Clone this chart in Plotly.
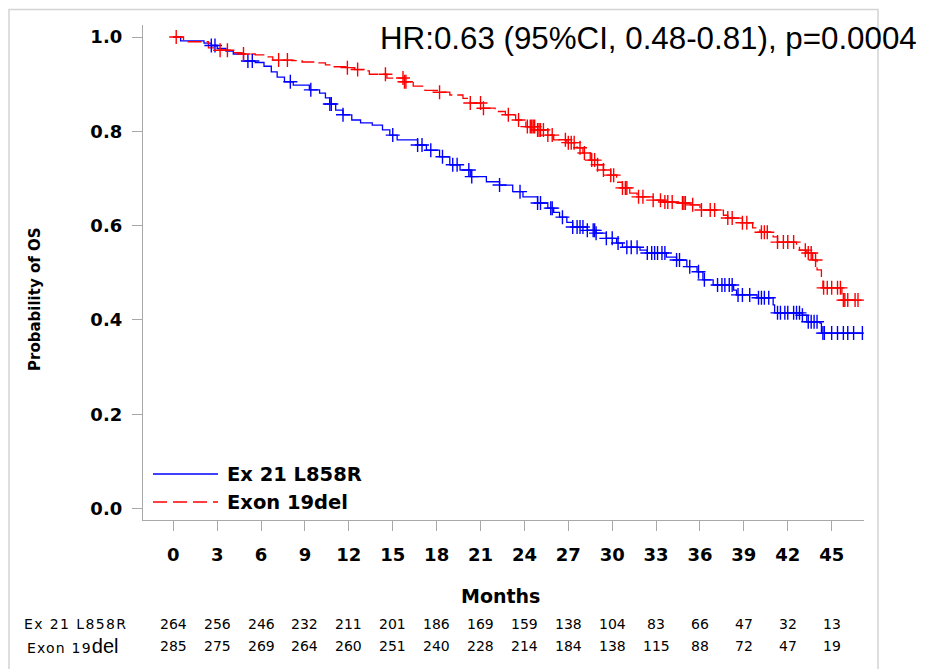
import numpy as np
import plotly.graph_objects as go

# ---------------- data ----------------
groups = ["Ex 21 L858R", "Exon 19del"]

blue_t = [0, 0.5, 2.1, 2.6, 3.0, 3.6, 4.1, 4.8, 5.6, 6.2, 6.7, 7.1, 7.6, 8.2, 9.3, 10.0, 10.4, 10.7,
          11.1, 11.6, 12.2, 12.8, 13.6, 14.3, 14.8, 15.3, 16.7, 17.3, 18.2, 18.9, 19.6, 20.3, 21.4,
          22.3, 23.2, 23.9, 24.9, 25.6, 26.0, 26.4, 26.9, 27.3, 28.3, 28.9, 29.6, 30.3, 30.7, 31.9,
          32.4, 33.7, 34.4, 35.1, 35.8, 36.2, 36.9, 38.3, 38.5, 39.9, 41.0, 41.1, 43.0, 43.3, 44.2,
          44.3, 47.1]
blue_s = [1.0, 0.992, 0.987, 0.982, 0.976, 0.970, 0.964, 0.949, 0.946, 0.938, 0.926, 0.915, 0.905,
          0.898, 0.888, 0.881, 0.871, 0.858, 0.845, 0.835, 0.824, 0.818, 0.813, 0.803, 0.792, 0.782,
          0.771, 0.760, 0.746, 0.729, 0.718, 0.704, 0.693, 0.686, 0.672, 0.661, 0.648, 0.637, 0.628,
          0.618, 0.607, 0.597, 0.590, 0.584, 0.573, 0.563, 0.554, 0.548, 0.542, 0.533, 0.527, 0.513,
          0.502, 0.485, 0.474, 0.463, 0.453, 0.447, 0.432, 0.415, 0.410, 0.396, 0.393, 0.372, 0.372]

red_t = [0, 0.7, 2.4, 2.9, 4.0, 4.7, 5.6, 6.3, 6.8, 8.1, 8.8, 9.9, 10.4, 10.9, 11.8, 12.4, 13.1,
         13.4, 14.6, 15.8, 16.4, 17.2, 18.1, 18.9, 19.8, 20.3, 21.1, 22.0, 22.7, 23.4, 24.1, 24.9,
         25.6, 26.0, 26.9, 27.6, 28.0, 28.5, 29.0, 29.4, 29.9, 30.3, 30.7, 31.2, 31.7, 32.8, 33.5,
         34.5, 35.1, 36.0, 37.6, 37.9, 38.9, 39.6, 40.1, 41.0, 41.3, 42.6, 42.8, 43.3, 43.7, 44.0,
         44.3, 44.4, 45.7, 47.0]
red_s = [1.0, 0.990, 0.977, 0.972, 0.967, 0.964, 0.962, 0.958, 0.951, 0.950, 0.947, 0.945, 0.941,
         0.937, 0.935, 0.931, 0.928, 0.921, 0.913, 0.905, 0.896, 0.887, 0.883, 0.877, 0.870, 0.860,
         0.849, 0.842, 0.835, 0.824, 0.810, 0.803, 0.792, 0.782, 0.776, 0.765, 0.754, 0.739, 0.729,
         0.718, 0.707, 0.692, 0.680, 0.669, 0.661, 0.654, 0.650, 0.648, 0.644, 0.633, 0.622, 0.616,
         0.606, 0.595, 0.586, 0.576, 0.565, 0.555, 0.548, 0.542, 0.527, 0.506, 0.485, 0.468, 0.442,
         0.442]

blue_cens = [2.6, 2.85, 5.1, 5.4, 8.0, 9.4, 10.7, 10.8, 11.6, 15.0, 16.7, 17.0, 17.6, 18.4, 19.1,
             19.4, 20.2, 20.4, 22.3, 23.7, 24.9, 25.1, 25.8, 25.9, 26.6, 27.3, 27.6, 27.8, 28.0,
             28.3, 28.7, 28.8, 28.9, 29.6, 30.0, 30.4, 31.0, 31.3, 31.7, 32.4, 32.7, 32.9, 33.1,
             33.4, 33.6, 34.4, 34.6, 35.3, 35.9, 36.3, 37.2, 37.5, 37.7, 38.0, 38.2, 38.6, 38.9,
             39.4, 40.0, 40.2, 40.4, 40.7, 41.3, 41.5, 41.8, 42.0, 42.4, 42.6, 42.8, 43.0, 43.4,
             43.6, 43.8, 44.0, 44.4, 44.5, 45.0, 45.4, 45.8, 46.1, 46.5, 47.1]
red_cens = [0.2, 3.2, 3.7, 4.8, 7.2, 7.8, 11.9, 12.6, 14.5, 15.7, 15.8, 15.9, 18.2, 20.3, 21.0,
            21.2, 22.9, 23.6, 24.2, 24.4, 24.5, 24.6, 24.7, 24.9, 25.0, 25.1, 25.3, 25.6, 25.9,
            26.8, 27.0, 27.2, 27.4, 27.8, 28.1, 28.6, 28.8, 29.0, 29.4, 29.9, 30.1, 30.7, 30.9,
            31.0, 31.8, 32.1, 32.8, 33.3, 33.6, 33.8, 34.1, 34.8, 34.9, 35.0, 35.5, 36.1, 36.7,
            37.0, 37.9, 38.2, 38.9, 39.2, 40.2, 40.4, 40.6, 41.3, 41.7, 42.0, 42.4, 43.2, 43.4,
            43.6, 43.9, 44.45, 44.7, 45.0, 45.4, 45.6, 45.8, 45.9, 46.1, 46.6, 46.8]

risk_times = [0, 3, 6, 9, 12, 15, 18, 21, 24, 27, 30, 33, 36, 39, 42, 45]
risk_blue = [264, 256, 246, 232, 211, 201, 186, 169, 159, 138, 104, 83, 66, 47, 32, 13]
risk_red = [285, 275, 269, 264, 260, 251, 240, 228, 214, 184, 138, 115, 88, 72, 47, 19]

y_ticks = [0.0, 0.2, 0.4, 0.6, 0.8, 1.0]
x_ticks = risk_times

hr_text = "HR:0.63 (95%CI, 0.48-0.81), p=0.0004"

BLUE = "#0000FF"
RED = "#FF0000"
BOLD = "DejaVu Sans"


def step_value(times, surv, t):
    idx = np.searchsorted(np.array(times), t, side="right") - 1
    return np.array(surv)[idx]


fig = go.Figure()

fig.add_trace(go.Scatter(x=blue_t, y=blue_s, mode="lines", line=dict(color=BLUE, width=1.3, shape="hv"),
                         showlegend=False, hoverinfo="skip"))
fig.add_trace(go.Scatter(x=red_t, y=red_s, mode="lines",
                         line=dict(color=RED, width=1.3, shape="hv", dash="14px,5px"),
                         showlegend=False, hoverinfo="skip"))
fig.add_trace(go.Scatter(x=blue_cens, y=step_value(blue_t, blue_s, blue_cens), mode="markers",
                         marker=dict(symbol="cross-thin", size=10, line=dict(color=BLUE, width=1.4)),
                         showlegend=False, hoverinfo="skip"))
fig.add_trace(go.Scatter(x=red_cens, y=step_value(red_t, red_s, red_cens), mode="markers",
                         marker=dict(symbol="cross-thin", size=10, line=dict(color=RED, width=1.4)),
                         showlegend=False, hoverinfo="skip"))

OFF = 8  # page offset of the figure inside the browser
W, H = 932, 669
L, T = 143 - OFF, 25 - OFF
pw, ph = 721, 495
R, B = W - L - pw, H - T - ph


def px(x):
    return (x - OFF - L) / pw


def py(y):
    return (T + ph - (y - OFF)) / ph


annotations = []
shapes = []

# outer frame
shapes.append(dict(type="rect", xref="paper", yref="paper", x0=px(9), x1=px(878), y0=py(700), y1=py(9.5),
                   line=dict(color="#d4d4d4", width=1.5), layer="below"))

# legend (drawn)
shapes.append(dict(type="line", xref="paper", yref="paper", x0=px(153), x1=px(218), y0=py(474), y1=py(474),
                   line=dict(color=BLUE, width=1.3)))
shapes.append(dict(type="line", xref="paper", yref="paper", x0=px(153), x1=px(218), y0=py(502), y1=py(502),
                   line=dict(color=RED, width=1.3, dash="14px,6px")))
annotations.append(dict(xref="paper", yref="paper", x=px(225), y=py(474), xanchor="left", yanchor="middle",
                        text=groups[0], showarrow=False,
                        font=dict(family=BOLD, size=19.5, color="black", weight="bold")))
annotations.append(dict(xref="paper", yref="paper", x=px(225), y=py(502), xanchor="left", yanchor="middle",
                        text="Exon 19del", showarrow=False,
                        font=dict(family=BOLD, size=19.5, color="black", weight="bold")))

# HR text
annotations.append(dict(xref="paper", yref="paper", x=px(378), y=py(39), xanchor="left", yanchor="middle",
                        text=hr_text, showarrow=False,
                        font=dict(family="Liberation Sans, Arial", size=31.3, color="black")))

# axis titles
annotations.append(dict(xref="paper", yref="paper", x=px(500), y=py(596), xanchor="center",
                        yanchor="middle", text="Months", showarrow=False,
                        font=dict(family=BOLD, size=19, color="black", weight="bold")))
annotations.append(dict(xref="paper", yref="paper", x=px(35), y=py(299), xanchor="center", yanchor="middle",
                        text="Probability of OS", textangle=-90, showarrow=False,
                        font=dict(family=BOLD, size=15, color="black", weight="bold")))

# risk table
tfont = dict(family="DejaVu Sans", size=14, color="black")
annotations.append(dict(xref="paper", yref="paper", x=px(22), y=py(624), xanchor="left", yanchor="middle",
                        text="<span style='letter-spacing:1.4px'>" + groups[0] + "</span>",
                        showarrow=False, font=tfont))
annotations.append(dict(xref="paper", yref="paper", x=px(25), y=py(646), xanchor="left", yanchor="middle",
                        text="<span style='letter-spacing:1.2px'>Exon 19</span>"
                             "<span style='font-family:Liberation Sans;font-size:20px'>del</span>",
                        showarrow=False, font=tfont))
for t, nb, nr in zip(risk_times, risk_blue, risk_red):
    annotations.append(dict(xref="x", yref="paper", x=t, y=py(624), xanchor="center", yanchor="middle",
                            text=str(nb), showarrow=False, font=tfont))
    annotations.append(dict(xref="x", yref="paper", x=t, y=py(646), xanchor="center", yanchor="middle",
                            text=str(nr), showarrow=False, font=tfont))

axis_gray = "#a8a8a8"
fig.update_layout(
    width=W, height=H,
    margin=dict(l=L, r=R, t=T, b=B, pad=0),
    paper_bgcolor="white", plot_bgcolor="white",
    showlegend=False,
    xaxis=dict(range=[-2.07, 47.21], tickvals=x_ticks, ticktext=[str(v) for v in x_ticks],
               showgrid=False, zeroline=False, showline=True, linecolor=axis_gray, linewidth=1.3,
               ticks="outside", ticklen=10, tickcolor=axis_gray, tickwidth=1.3, ticklabelstandoff=8,
               tickfont=dict(family=BOLD, size=18, color="black", weight="bold")),
    yaxis=dict(range=[-0.0244, 1.0255], tickvals=y_ticks, ticktext=["%.1f" % v for v in y_ticks],
               showgrid=False, zeroline=False, showline=True, linecolor=axis_gray, linewidth=1.3,
               ticks="outside", ticklen=10, tickcolor=axis_gray, tickwidth=1.3, ticklabelstandoff=6,
               tickfont=dict(family=BOLD, size=18, color="black", weight="bold")),
    annotations=annotations,
    shapes=shapes,
)

fig.write_html("out.html")
